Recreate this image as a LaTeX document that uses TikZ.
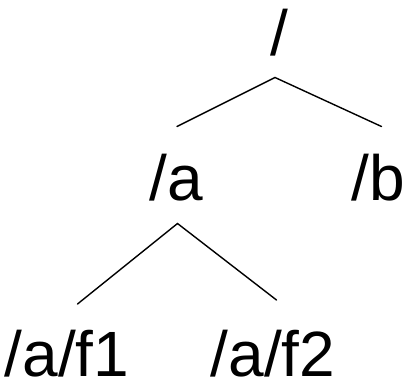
\documentclass[tikz,border=0pt]{standalone}
\usepackage{fontspec}
\setmainfont{Liberation Sans}
\begin{document}
\begin{tikzpicture}[x=1pt,y=-1pt,
  lbl/.style={anchor=base,inner sep=0pt,font=\fontsize{64}{64}\selectfont},
  edge/.style={line width=1.4pt,line cap=round}]
\useasboundingbox (0,0) rectangle (406,381);
\node[lbl] (root) at (279.5,55) {/};
\node[lbl] (a) at (176,200) {/a};
\node[lbl] (b) at (378,200) {/b};
\node[lbl] (af1) at (67,376) {/a/f1};
\node[lbl] (af2) at (273,376) {/a/f2};
\coordinate (rootj) at (275,77.5);
\coordinate (aend) at (177,126.5);
\coordinate (bend) at (381.5,126.5);
\coordinate (aj) at (177.5,223.5);
\coordinate (f1end) at (77.5,304);
\coordinate (f2end) at (276.5,300);
\draw[edge] (aend) -- (rootj) -- (bend);
\draw[edge] (f1end) -- (aj) -- (f2end);
\end{tikzpicture}
\end{document}
